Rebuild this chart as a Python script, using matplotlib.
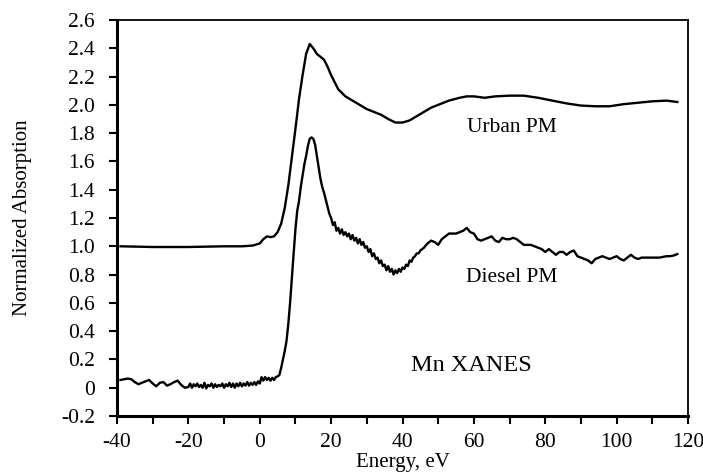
import matplotlib
matplotlib.use("Agg")
import matplotlib.pyplot as plt
from matplotlib.ticker import MultipleLocator, FuncFormatter

plt.rcParams['font.family'] = ['Liberation Serif', 'DejaVu Serif']
plt.rcParams['axes.unicode_minus'] = False

# ---- data ----
urban_e = [-39, -30, -20, -10, -5, -2, 0, 1, 2, 3, 4, 5, 6, 7, 8, 9, 10, 11, 12, 13, 14,
           15, 16, 17, 18, 19, 20, 22, 24, 26, 28, 30, 32, 34, 36, 38, 40, 42, 44, 46, 48,
           50, 53, 56, 58, 60, 63, 66, 70, 74, 78, 82, 86, 90, 94, 98, 102, 106, 110, 114, 117]
urban_a = [1.0, 0.995, 0.995, 1.0, 1.0, 1.005, 1.02, 1.05, 1.07, 1.065, 1.07, 1.1, 1.16, 1.27,
           1.43, 1.63, 1.83, 2.04, 2.21, 2.36, 2.43, 2.40, 2.36, 2.34, 2.32, 2.27, 2.21, 2.11,
           2.06, 2.03, 2.0, 1.97, 1.95, 1.93, 1.90, 1.875, 1.875, 1.89, 1.92, 1.95, 1.98, 2.00,
           2.03, 2.05, 2.06, 2.06, 2.05, 2.06, 2.065, 2.065, 2.05, 2.03, 2.01, 1.995, 1.99, 1.99,
           2.005, 2.015, 2.025, 2.03, 2.02]

diesel_e = [-39, -38, -37, -36, -35, -34, -33, -32, -31, -30, -29, -28, -27, -26, -25, -24,
            -23, -22, -21, -20,
            -19.5, -19, -18.5, -18, -17.5, -17, -16.5, -16, -15.5, -15, -14.5, -14, -13.5, -13,
            -12.5, -12, -11.5, -11, -10.5, -10, -9.5, -9, -8.5, -8, -7.5, -7, -6.5, -6, -5.5,
            -5, -4.5, -4, -3.5, -3, -2.5, -2, -1.5, -1, -0.5, 0, 0.5, 1, 1.5, 2, 2.5, 3, 3.5,
            4, 4.5, 5, 5.5, 6, 6.5, 7, 7.5, 8, 8.5, 9, 9.5, 10, 10.5, 11, 11.5, 12, 12.5, 13,
            13.5, 14, 14.5, 15, 15.5, 16, 16.5, 17, 17.5, 18, 18.5, 19, 19.5, 20, 20.5, 21,
            21.5, 22, 22.5, 23, 23.5, 24, 24.5, 25, 25.5, 26, 26.5, 27, 27.5, 28, 28.5, 29,
            29.5, 30, 30.5, 31, 31.5, 32, 32.5, 33, 33.5, 34, 34.5, 35, 35.5, 36, 36.5, 37,
            37.5, 38, 38.5, 39, 39.5, 40, 40.5, 41, 41.5, 42, 42.5, 43, 43.5, 44, 44.5, 45,
            46, 47, 48, 49, 50, 51, 52, 53, 54, 55, 56, 57, 58, 59, 60, 61, 62, 63, 64, 65,
            66, 67, 68, 69, 70, 71, 72, 73, 74, 75, 76, 77, 78, 79, 80, 81, 82, 83, 84, 85,
            86, 87, 88, 89, 90, 91, 92, 93, 94, 95, 96, 97, 98, 99, 100, 101, 102, 103, 104,
            105, 106, 107, 108, 109, 110, 112, 114, 115, 116, 117]
diesel_a = [0.055, 0.06, 0.065, 0.06, 0.04, 0.025, 0.035, 0.045, 0.055, 0.03, 0.01, 0.035,
            0.04, 0.015, 0.025, 0.04, 0.05, 0.02, 0.0, 0.005,
            0.03, 0.0, 0.025, 0.01, 0.03, 0.005, 0.02, 0.0, 0.035, -0.005, 0.02, 0.01, 0.03,
            0.0, 0.025, 0.005, 0.02, 0.01, 0.03, 0.0, 0.025, 0.01, 0.035, 0.005, 0.03, 0.0,
            0.03, 0.01, 0.035, 0.01, 0.03, 0.015, 0.04, 0.015, 0.035, 0.02, 0.04, 0.02, 0.045,
            0.03, 0.075, 0.05, 0.075, 0.055, 0.07, 0.05, 0.07, 0.055, 0.075, 0.08, 0.09, 0.14,
            0.2, 0.26, 0.33, 0.45, 0.6, 0.78, 0.95, 1.12, 1.25, 1.32, 1.42, 1.50, 1.58, 1.64,
            1.71, 1.76, 1.77, 1.76, 1.72, 1.64, 1.56, 1.48, 1.42, 1.38, 1.33, 1.28, 1.23, 1.20,
            1.15, 1.17, 1.11, 1.13, 1.09, 1.12, 1.08, 1.10, 1.07, 1.09, 1.05, 1.08, 1.04, 1.06,
            1.02, 1.05, 1.01, 1.03, 0.99, 1.00, 0.96, 0.98, 0.93, 0.95, 0.91, 0.92, 0.88, 0.90,
            0.86, 0.87, 0.83, 0.86, 0.82, 0.84, 0.80, 0.83, 0.81, 0.84, 0.82, 0.85, 0.84, 0.87,
            0.86, 0.90, 0.89, 0.92, 0.93, 0.95, 0.95, 0.97,
            0.99, 1.02, 1.04, 1.03, 1.01, 1.05, 1.07, 1.09, 1.09, 1.09, 1.10, 1.11, 1.13, 1.10,
            1.09, 1.05, 1.04, 1.05, 1.06, 1.07, 1.04, 1.03, 1.06, 1.05, 1.05, 1.06, 1.05, 1.03,
            1.01, 1.01, 1.01, 1.0, 0.99, 0.98, 0.96, 0.98, 0.96, 0.94, 0.96, 0.96, 0.94, 0.96,
            0.97, 0.93, 0.92, 0.91, 0.90, 0.88, 0.91, 0.92, 0.93, 0.92, 0.91, 0.92, 0.93, 0.91,
            0.90, 0.92, 0.94, 0.92, 0.91, 0.92, 0.92, 0.92, 0.92, 0.92, 0.93, 0.93, 0.935, 0.945]

labels = ["Urban PM", "Diesel PM"]
title_text = "Mn XANES"
xlabel = "Energy, eV"
ylabel = "Normalized Absorption"

# ---- plot ----
fig = plt.figure(figsize=(7.03, 4.76), dpi=100)
ax = fig.add_axes([0.1664, 0.126, 0.9787 - 0.1664, 0.958 - 0.126])

ax.plot(urban_e, urban_a, color='black', lw=1.7)
ax.plot(diesel_e, diesel_a, color='black', lw=1.7)

ax.set_xlim(-40, 120)
ax.set_ylim(-0.2, 2.6)
ax.xaxis.set_major_locator(MultipleLocator(20))
ax.xaxis.set_minor_locator(MultipleLocator(10))
ax.yaxis.set_major_locator(MultipleLocator(0.2))

def yfmt(v, pos):
    if abs(v) < 1e-9:
        return "0"
    return "%.1f" % v

ax.yaxis.set_major_formatter(FuncFormatter(yfmt))
ax.xaxis.set_major_formatter(FuncFormatter(lambda v, p: "%d" % round(v)))

ax.tick_params(axis='both', which='major', direction='out', length=6, width=1.5,
               labelsize=15.5)
ax.tick_params(axis='y', which='major', pad=10)
ax.tick_params(axis='x', which='major', pad=6)
ax.tick_params(axis='x', which='minor', direction='out', length=6, width=1.5)
ax.tick_params(top=False, right=False)

for side in ['left', 'bottom']:
    ax.spines[side].set_linewidth(2.2)
for side in ['top', 'right']:
    ax.spines[side].set_linewidth(1.3)

ax.set_xlabel(xlabel, fontsize=15, labelpad=1)
ax.set_ylabel(ylabel, fontsize=15, labelpad=21)

ax.text(70.6, 1.84, labels[0], fontsize=15.5, ha='center', va='center')
ax.text(70.6, 0.78, labels[1], fontsize=15.5, ha='center', va='center')
ax.text(59.4, 0.155, title_text, fontsize=17.5, ha='center', va='center')

fig.savefig("out.png", dpi=100)
